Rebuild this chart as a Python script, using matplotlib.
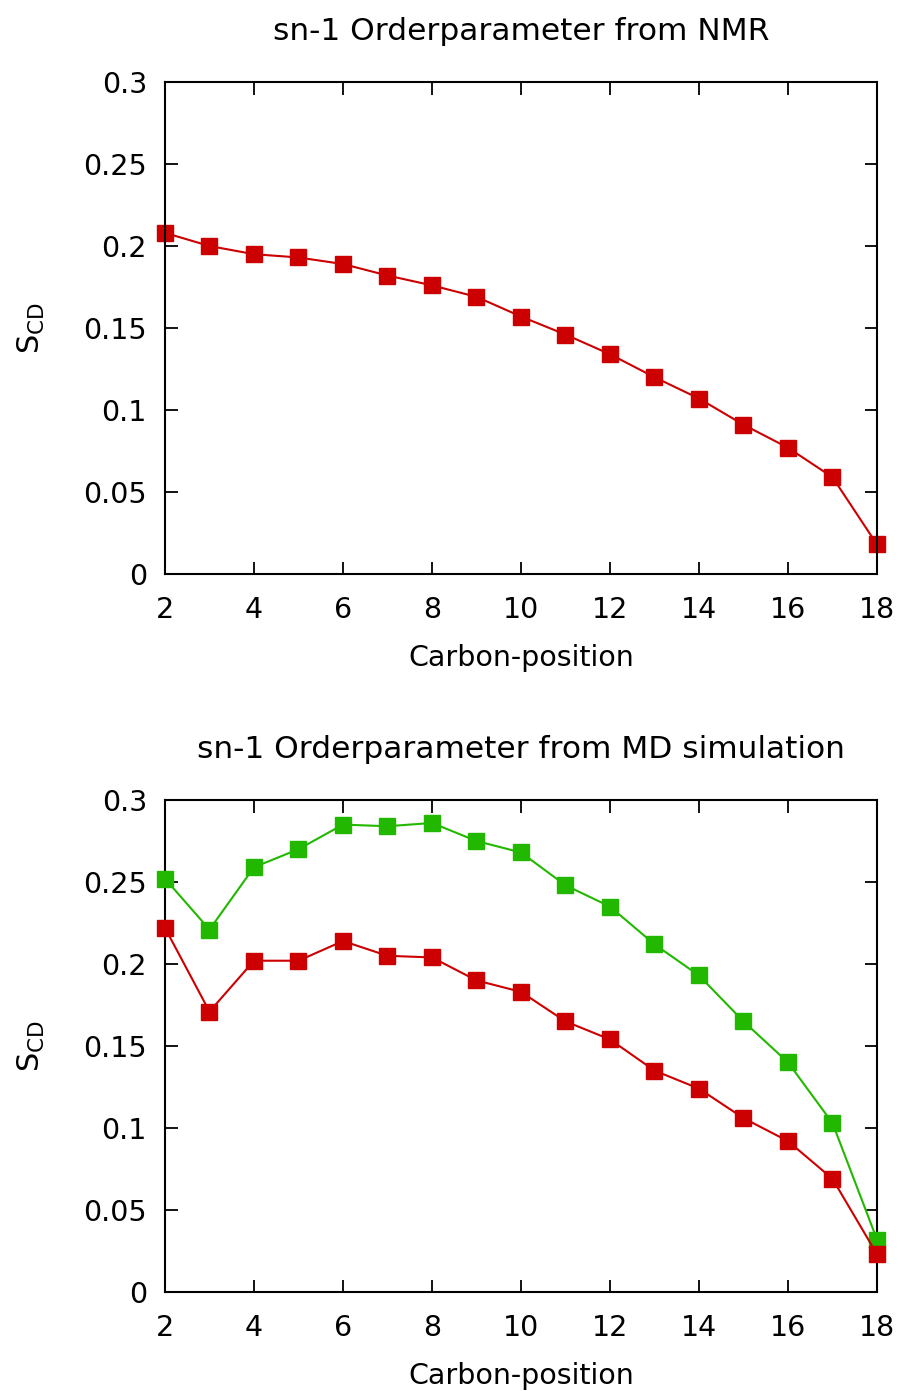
import matplotlib
matplotlib.use("Agg")
import matplotlib.pyplot as plt

carbons = list(range(2, 19))
nmr_sn1 = [0.208, 0.200, 0.195, 0.193, 0.189, 0.182, 0.176, 0.169, 0.157,
           0.146, 0.134, 0.120, 0.107, 0.091, 0.077, 0.059, 0.018]
md_red = [0.222, 0.171, 0.202, 0.202, 0.214, 0.205, 0.204, 0.190, 0.183,
          0.165, 0.154, 0.135, 0.124, 0.106, 0.092, 0.069, 0.023]
md_green = [0.252, 0.221, 0.259, 0.270, 0.285, 0.284, 0.286, 0.275, 0.268,
            0.248, 0.235, 0.212, 0.193, 0.165, 0.140, 0.103, 0.032]
titles = ["sn-1 Orderparameter from NMR", "sn-1 Orderparameter from MD simulation"]
xticks = [2, 4, 6, 8, 10, 12, 14, 16, 18]
yticks = [0, 0.05, 0.1, 0.15, 0.2, 0.25, 0.3]
ytick_labels = ["0", "0.05", "0.1", "0.15", "0.2", "0.25", "0.3"]

RED = "#cc0000"
GREEN = "#22b800"

plt.rcParams['font.family'] = ['DejaVu Sans']
fig = plt.figure(figsize=(9.03, 13.91), dpi=100)
W, H = 903, 1391
ax1 = fig.add_axes([165 / W, 1 - 574 / H, 712 / W, 492 / H])
ax2 = fig.add_axes([165 / W, 1 - 1292 / H, 712 / W, 492 / H])

ms = 12
lw = 1.5
ax1.plot(carbons, nmr_sn1, color=RED, marker='s', ms=ms, lw=lw, mec=RED)
ax2.plot(carbons, md_green, color=GREEN, marker='s', ms=ms, lw=lw, mec=GREEN, zorder=3)
ax2.plot(carbons, md_red, color=RED, marker='s', ms=ms, lw=lw, mec=RED, zorder=4)

for ax, t in zip((ax1, ax2), titles):
    ax.set_xlim(2, 18)
    ax.set_ylim(0, 0.3)
    ax.set_xticks(xticks)
    ax.set_yticks(yticks)
    ax.set_yticklabels(ytick_labels)
    ax.tick_params(direction='in', length=9, width=1.3, top=True, right=True,
                   labelsize=20.5, color='black')
    ax.tick_params(axis='x', pad=16)
    ax.tick_params(axis='y', pad=13)
    for s in ax.spines.values():
        s.set_linewidth(1.5)
    ax.set_title(t, fontsize=22.5, pad=30)
    ax.set_xlabel("Carbon-position", fontsize=20.5, labelpad=14)
    ax.set_ylabel(r"S$_{\mathrm{CD}}$", fontsize=22, labelpad=26)
    for line in ax.lines:
        line.set_clip_on(False)

fig.savefig("out.png", dpi=100, facecolor='white')
